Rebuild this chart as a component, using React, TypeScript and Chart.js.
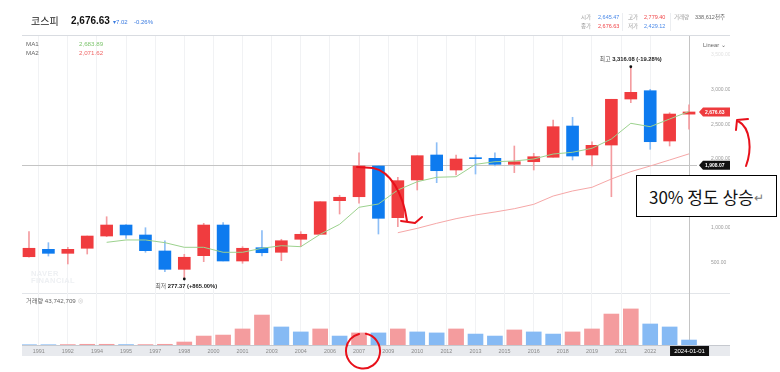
import React, { useEffect, useRef } from 'react';
import { Chart, registerables } from 'chart.js';

Chart.register(...registerables);

// ---------- data ----------
const years = [1990, 1991, 1992, 1993, 1994, 1995, 1996, 1997, 1998, 1999, 2000, 2001, 2002, 2003, 2004, 2005, 2006, 2007, 2008, 2009, 2010, 2011, 2012, 2013, 2014, 2015, 2016, 2017, 2018, 2019, 2020, 2021, 2022, 2023, 2024];
const opens = [585, 692, 634, 707, 884, 1043, 899, 668, 403, 600, 1043, 523, 715, 649, 837, 909, 1395, 1452, 1896, 1149, 1694, 2055, 1838, 2011, 2007, 1920, 1958, 2022, 2474, 2055, 2199, 2864, 2984, 2257, 2645.47];
const closes = [707, 634, 692, 884, 1043, 899, 672, 403, 577, 1043, 523, 707, 643, 816, 909, 1380, 1444, 1896, 1140, 1684, 2045, 1828, 1997, 2002, 1920, 1958, 2030, 2464, 2040, 2195, 2860, 2961, 2247, 2647, 2676.63];
const highs = [947, 788, 721, 884, 1163, 1050, 1004, 816, 620, 1068, 1077, 730, 961, 837, 947, 1380, 1473, 2088, 1900, 1733, 2045, 2233, 2055, 2055, 2088, 2185, 2079, 2561, 2600, 2247, 2860, 3316.08, 3004, 2666, 2779.4];
const lows = [580, 595, 480, 624, 876, 851, 649, 368, 277.37, 513, 523, 490, 595, 527, 730, 909, 1202, 1357, 913, 1019, 1549, 1655, 1766, 1780, 1896, 1800, 1838, 2022, 1983, 1896, 1452, 2811, 2137, 2185, 2429.12];
const volumes = [2, 2, 3, 5, 5, 3, 3, 5, 21, 63, 70, 113, 211, 127, 92, 113, 63, 85, 85, 113, 92, 85, 113, 77, 63, 106, 92, 77, 92, 113, 218, 254, 148, 127, 35];
const volumeUp = [0, 0, 1, 1, 1, 0, 1, 1, 1, 1, 1, 1, 1, 0, 0, 1, 0, 1, 0, 1, 0, 0, 1, 0, 0, 1, 0, 0, 1, 1, 1, 1, 0, 0, 0];
const ma1 = [null, null, null, null, 793, 827, 827, 788, 721, 721, 649, 649, 707, 744, 730, 909, 1053, 1299, 1347, 1549, 1669, 1733, 1741, 1920, 1958, 1968, 1997, 2069, 2094, 2152, 2286, 2513, 2464, 2575, 2683.89];
const ma2 = [null, null, null, null, null, null, null, null, null, null, null, null, null, null, null, null, null, null, null, 932, 995, 1068, 1135, 1188, 1231, 1279, 1342, 1462, 1535, 1588, 1708, 1814, 1896, 1983, 2071.62];
const xTickLabels = ['1991', '1992', '1994', '1995', '1997', '1998', '2000', '2001', '2003', '2004', '2006', '2007', '2009', '2010', '2012', '2013', '2015', '2016', '2018', '2019', '2021', '2022'];
const priceTicks = [500, 1000, 1500, 2000, 2500, 3000, 3500];
const volumeTicks = [50, 100, 150, 200, 250];
const volumeTickLabels = ['50.0m', '100.0m', '150m', '200m', '250m'];
const highIndex = 31;
const highText = '3,316.08 (-19.28%)';
const lowIndex = 8;
const lowText = '277.37 (+865.00%)';
const crossIndex = 34;
const crossPrice = 1908.07;
const crossDate = '2024-01-01';
const lastPrice = 2676.63;

// ---------- styles ----------
const RED = '#F03C3F';
const BLUE = '#0E7BEF';
const RED_WICK = '#F49CA0';
const BLUE_WICK = '#8DBEF6';
const VOL_RED = '#F49C9E';
const VOL_BLUE = '#86BAF4';
const FONT = "'Liberation Sans', 'Noto Sans CJK KR', sans-serif";
const CJK = "'Noto Sans CJK KR', 'Liberation Sans', sans-serif";

const fmt = (v: number) => v.toLocaleString('en-US', { minimumFractionDigits: 2, maximumFractionDigits: 2 });

function tag(ctx: CanvasRenderingContext2D, x: number, y: number, w: number, h: number, bg: string, text: string) {
  ctx.save();
  ctx.fillStyle = bg;
  ctx.beginPath();
  ctx.moveTo(x, y);
  ctx.lineTo(x + 4, y - h / 2);
  ctx.lineTo(x + w, y - h / 2);
  ctx.lineTo(x + w, y + h / 2);
  ctx.lineTo(x + 4, y + h / 2);
  ctx.closePath();
  ctx.fill();
  ctx.fillStyle = '#fff';
  ctx.font = `bold 5px ${FONT}`;
  ctx.textBaseline = 'middle';
  ctx.textAlign = 'left';
  ctx.fillText(text, x + 6, y + 0.5);
  ctx.restore();
}

const decorPlugin = {
  id: 'decor',
  beforeDraw(chart: any) {
    const { ctx, chartArea: ca } = chart;
    ctx.save();
    ctx.fillStyle = '#fff';
    ctx.fillRect(0, 0, chart.width, chart.height);
    ctx.strokeStyle = '#d9dce1';
    ctx.lineWidth = 1;
    ctx.beginPath();
    ctx.moveTo(ca.left, 35.5);
    ctx.lineTo(ca.right + 33, 35.5);
    ctx.stroke();
    ctx.fillStyle = '#e8eaee';
    ctx.fillRect(ca.left, ca.bottom, ca.right + 33 - ca.left, 11);
    ctx.strokeStyle = '#c6c9cf';
    ctx.beginPath();
    ctx.moveTo(ca.left, ca.bottom + 0.5);
    ctx.lineTo(ca.right + 33, ca.bottom + 0.5);
    ctx.stroke();
    ctx.strokeStyle = '#e2e5e9';
    ctx.beginPath();
    ctx.moveTo(ca.left, 293.5);
    ctx.lineTo(ca.right + 33, 293.5);
    ctx.stroke();
    ctx.restore();
  },
  beforeDatasetsDraw(chart: any) {
    const { ctx, chartArea: ca, scales } = chart;
    const cx = Math.round(scales.x.getPixelForValue(crossIndex)) + 0.5;
    const cy = Math.round(scales.y.getPixelForValue(crossPrice)) + 0.5;
    ctx.save();
    ctx.strokeStyle = '#c4c4c4';
    ctx.lineWidth = 1;
    ctx.beginPath();
    ctx.moveTo(ca.left, cy);
    ctx.lineTo(ca.right, cy);
    ctx.moveTo(cx, 36);
    ctx.lineTo(cx, ca.bottom + 11);
    ctx.stroke();
    ctx.restore();
  },
  afterDatasetsDraw(chart: any) {
    const { ctx, chartArea: ca, scales } = chart;
    const xs = scales.x, ys = scales.y;
    ctx.save();
    ctx.textBaseline = 'middle';
    ctx.textAlign = 'left';
    // high marker
    const hx = xs.getPixelForValue(highIndex), hy = ys.getPixelForValue(highs[highIndex]);
    ctx.fillStyle = '#111';
    ctx.beginPath(); ctx.arc(hx, hy - 1, 1.4, 0, Math.PI * 2); ctx.fill();
    ctx.font = `5.8px ${FONT}`;
    const w1 = ctx.measureText('최고 ').width;
    ctx.font = `bold 5.8px ${FONT}`;
    const w2 = ctx.measureText(highText).width;
    let sx = hx - (w1 + w2) / 2;
    ctx.font = `5.8px ${FONT}`; ctx.fillStyle = '#555';
    ctx.fillText('최고 ', sx, hy - 8);
    ctx.font = `bold 5.8px ${FONT}`; ctx.fillStyle = '#222';
    ctx.fillText(highText, sx + w1, hy - 8);
    // low marker
    const lx = xs.getPixelForValue(lowIndex), ly = ys.getPixelForValue(lows[lowIndex]);
    ctx.fillStyle = '#111';
    ctx.beginPath(); ctx.arc(lx, ly + 1, 1.4, 0, Math.PI * 2); ctx.fill();
    ctx.font = `5.8px ${FONT}`;
    const w3 = ctx.measureText('최저 ').width;
    ctx.font = `bold 5.8px ${FONT}`;
    const w4 = ctx.measureText(lowText).width;
    sx = lx - (w3 + w4) / 2 + 2;
    ctx.font = `5.8px ${FONT}`; ctx.fillStyle = '#555';
    ctx.fillText('최저 ', sx, ly + 8);
    ctx.font = `bold 5.8px ${FONT}`; ctx.fillStyle = '#222';
    ctx.fillText(lowText, sx + w3, ly + 8);
    // price tags
    tag(ctx, ca.right + 2, ys.getPixelForValue(lastPrice), 31, 9, '#EE3B3E', fmt(lastPrice));
    tag(ctx, ca.right + 2, ys.getPixelForValue(crossPrice), 31, 9, '#111', fmt(crossPrice));
    // date tag
    const dx = xs.getPixelForValue(crossIndex);
    ctx.fillStyle = '#111';
    ctx.fillRect(dx - 19, ca.bottom + 1, 39, 10);
    ctx.fillStyle = '#fff';
    ctx.font = `6px ${FONT}`;
    ctx.textAlign = 'center';
    ctx.fillText(crossDate, dx + 0.5, ca.bottom + 6.5);
    // hand drawn annotations
    ctx.strokeStyle = '#E8101A';
    ctx.lineWidth = 2;
    ctx.lineCap = 'round';
    ctx.lineJoin = 'round';
    ctx.beginPath();
    ctx.moveTo(357, 167);
    ctx.lineTo(373, 168);
    ctx.bezierCurveTo(390, 171, 403, 193, 407, 221);
    ctx.moveTo(401, 221);
    ctx.lineTo(415, 223);
    ctx.lineTo(422, 217);
    ctx.stroke();
    ctx.beginPath();
    ctx.moveTo(746, 166);
    ctx.bezierCurveTo(752, 150, 751, 128, 738, 121);
    ctx.moveTo(736, 130);
    ctx.lineTo(737, 120);
    ctx.lineTo(748, 119);
    ctx.stroke();
    ctx.beginPath();
    ctx.ellipse(363, 351, 17, 17.5, -0.2, -1.2, Math.PI * 2 - 1.6);
    ctx.stroke();
    ctx.restore();
  },
};

function T(p: { x: number; cy: number; s: number; c: string; w?: number; f?: string; children: React.ReactNode }) {
  return (
    <div
      style={{
        position: 'absolute',
        left: p.x,
        top: p.cy - p.s / 2 - 1,
        fontSize: p.s,
        lineHeight: `${p.s + 2}px`,
        color: p.c,
        fontWeight: p.w || 400,
        whiteSpace: 'nowrap',
        fontFamily: p.f || FONT,
      }}
    >
      {p.children}
    </div>
  );
}

export default function App() {
  const ref = useRef<HTMLCanvasElement | null>(null);

  useEffect(() => {
    document.body.style.margin = '0';
    Chart.defaults.font.family = FONT;
    const n = years.length;
    const idx = years.map((_, i) => i);
    const chart = new Chart(ref.current as HTMLCanvasElement, {
      type: 'bar',
      data: {
        datasets: [
          {
            type: 'line',
            data: idx.filter((i) => ma1[i] != null).map((i) => ({ x: i, y: ma1[i] })),
            borderColor: '#9CD28E',
            borderWidth: 1,
            pointRadius: 0,
            yAxisID: 'y',
            order: 0,
          } as any,
          {
            type: 'line',
            data: idx.filter((i) => ma2[i] != null).map((i) => ({ x: i, y: ma2[i] })),
            borderColor: '#F6A7A7',
            borderWidth: 1,
            pointRadius: 0,
            yAxisID: 'y',
            order: 0,
          } as any,
          {
            type: 'bar',
            data: idx.map((i) => ({ x: i, y: [opens[i], closes[i]] })),
            backgroundColor: idx.map((i) => (closes[i] >= opens[i] ? RED : BLUE)),
            barThickness: 12,
            grouped: false,
            minBarLength: 1,
            yAxisID: 'y',
            order: 1,
          } as any,
          {
            type: 'bar',
            data: idx.map((i) => ({ x: i, y: [lows[i], highs[i]] })),
            backgroundColor: idx.map((i) => (closes[i] >= opens[i] ? RED_WICK : BLUE_WICK)),
            barThickness: 1,
            grouped: false,
            yAxisID: 'y',
            order: 2,
          } as any,
          {
            type: 'bar',
            data: idx.map((i) => ({ x: i, y: volumes[i] })),
            backgroundColor: idx.map((i) => (volumeUp[i] ? VOL_RED : VOL_BLUE)),
            barThickness: 15,
            grouped: false,
            yAxisID: 'y2',
            order: 3,
          } as any,
        ],
      },
      options: {
        animation: false,
        responsive: true,
        maintainAspectRatio: false,
        layout: { padding: { left: 22, right: 50, top: 36, bottom: 16 } },
        plugins: { legend: { display: false }, tooltip: { enabled: false } },
        scales: {
          x: {
            type: 'linear',
            offset: false,
            min: -0.36,
            max: n - 0.59,
            grid: { color: '#f1f2f4', drawTicks: false, offset: false },
            border: { display: false },
            ticks: {
              autoSkip: false,
              maxRotation: 0,
              padding: 3,
              color: '#8a8a8a',
              font: { size: 5.4 },
              callback: (_v: any, i: number) => xTickLabels[i] ?? '',
            },
            afterBuildTicks: (s: any) => {
              s.ticks = xTickLabels.map((_, k) => ({ value: 0.5 + 1.5 * k }));
            },
            afterFit: (s: any) => {
              s.height = 11;
            },
          },
          y2: {
            position: 'right',
            weight: 0,
            min: 0,
            max: 2176,
            grid: { display: false },
            border: { display: false },
            ticks: {
              padding: 7,
              color: '#9a9a9a',
              font: { size: 4.9 },
              callback: (v: any) => volumeTickLabels[volumeTicks.indexOf(v)] ?? '',
            },
            afterBuildTicks: (s: any) => {
              s.ticks = volumeTicks.map((v) => ({ value: v }));
            },
            afterFit: (s: any) => {
              s.width = 0;
            },
          },
          y: {
            position: 'right',
            weight: 1,
            min: -690.8,
            max: 3774.6,
            grid: { display: false },
            border: { display: false },
            ticks: {
              padding: 6,
              color: (c: any) => (c.tick && c.tick.value === 3500 ? '#e2e2e2' : '#9a9a9a'),
              font: { size: 5 },
              callback: (v: any) => fmt(Number(v)),
            },
            afterBuildTicks: (s: any) => {
              s.ticks = priceTicks.map((v) => ({ value: v }));
            },
            afterFit: (s: any) => {
              s.width = 33;
            },
          },
        } as any,
      },
      plugins: [decorPlugin],
    });
    return () => chart.destroy();
  }, []);

  return (
    <div style={{ position: 'relative', width: 780, height: 372, overflow: 'hidden', background: '#fff' }}>
      <canvas ref={ref} style={{ position: 'absolute', left: 0, top: 0, width: 780, height: 372 }} />
      <T x={31} cy={21} s={10} c="#222" f={CJK}>코스피</T>
      <T x={71} cy={21} s={10} c="#111" w={700}>2,676.63</T>
      <T x={113} cy={21.5} s={6} c="#3a7be0">▾7.02</T>
      <T x={134} cy={21.5} s={6} c="#3a7be0">-0.26%</T>

      <T x={581} cy={18} s={5.5} c="#999">시가</T>
      <T x={598} cy={18} s={5.5} c="#4a89e8">2,645.47</T>
      <T x={628} cy={18} s={5.5} c="#999">고가</T>
      <T x={644} cy={18} s={5.5} c="#f04649">2,779.40</T>
      <T x={674} cy={18} s={5.5} c="#999">거래량</T>
      <T x={695} cy={18} s={5.5} c="#666">338,612천주</T>
      <T x={581} cy={26.5} s={5.5} c="#999">종가</T>
      <T x={598} cy={26.5} s={5.5} c="#f04649">2,676.63</T>
      <T x={628} cy={26.5} s={5.5} c="#999">저가</T>
      <T x={644} cy={26.5} s={5.5} c="#4a89e8">2,429.12</T>
      <div style={{ position: 'absolute', left: 622, top: 13, width: 1, height: 18, background: '#eceef1' }} />
      <div style={{ position: 'absolute', left: 670, top: 13, width: 1, height: 18, background: '#eceef1' }} />

      <T x={26} cy={44} s={6.2} c="#666">MA1</T>
      <T x={79} cy={44} s={6.2} c="#7cc46c">2,683.89</T>
      <T x={26} cy={53} s={6.2} c="#666">MA2</T>
      <T x={79} cy={53} s={6.2} c="#f06666">2,071.62</T>

      <T x={703} cy={46} s={5.8} c="#666">Linear ⌄</T>

      <T x={26} cy={301} s={6.2} c="#666">거래량 43,742,709 <span style={{ color: '#ccc' }}>⊗</span></T>

      <div style={{ position: 'absolute', left: 31, top: 270, fontFamily: FONT, fontWeight: 700, fontSize: 7.5, lineHeight: '7px', color: '#eef0f3', letterSpacing: 0.4 }}>
        NAVER<br />FINANCIAL
      </div>

      <div
        style={{
          position: 'absolute',
          left: 636,
          top: 175,
          width: 141,
          height: 42,
          border: '1px solid #000',
          background: '#fff',
          display: 'flex',
          alignItems: 'center',
          paddingLeft: 12,
          boxSizing: 'border-box',
          fontFamily: CJK,
          fontSize: 17,
          color: '#111',
          whiteSpace: 'nowrap',
        }}
      >
        30% 정도 상승<span style={{ fontSize: 12, color: '#777' }}>↵</span>
      </div>
    </div>
  );
}
